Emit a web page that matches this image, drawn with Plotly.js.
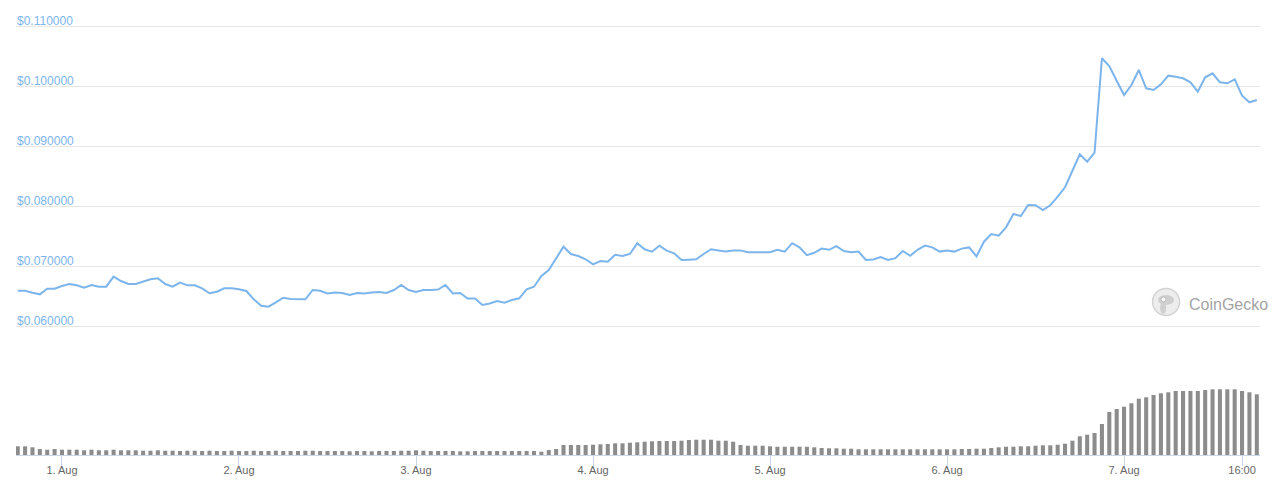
<!DOCTYPE html>
<html>
<head>
<meta charset="utf-8">
<script src="https://cdn.plot.ly/plotly-3.0.1.min.js"></script>
<style>
html,body{margin:0;padding:0;background:#fff;}
#chart{width:1280px;height:485px;}
</style>
</head>
<body>
<div id="chart"></div>
<script>
// Hourly series, first point 31 Jul 18:00, last point 7 Aug 18:00
const startTime = '2024-07-31T18:00:00';

// Price (USD) per hour, grouped by day
const price31Jul = [0.06588, 0.06588, 0.06555, 0.06528, 0.06622, 0.06622];
const price1Aug = [0.06667, 0.06700, 0.06678, 0.06638, 0.06683, 0.06655, 0.06655, 0.06822, 0.06750, 0.06700, 0.06700, 0.06733,
                   0.06778, 0.06795, 0.06700, 0.06655, 0.06722, 0.06678, 0.06678, 0.06628, 0.06545, 0.06572, 0.06628, 0.06628];
const price2Aug = [0.06612, 0.06583, 0.06445, 0.06338, 0.06322, 0.06395, 0.06472, 0.06450, 0.06450, 0.06445, 0.06600, 0.06588,
                   0.06542, 0.06558, 0.06550, 0.06517, 0.06550, 0.06542, 0.06558, 0.06567, 0.06550, 0.06600, 0.06683, 0.06600];
const price3Aug = [0.06567, 0.06600, 0.06600, 0.06608, 0.06683, 0.06542, 0.06550, 0.06458, 0.06458, 0.06350, 0.06375, 0.06417,
                   0.06388, 0.06433, 0.06462, 0.06612, 0.06655, 0.06833, 0.06933, 0.07128, 0.07322, 0.07200, 0.07167, 0.07112];
const price4Aug = [0.07028, 0.07083, 0.07072, 0.07188, 0.07167, 0.07200, 0.07378, 0.07278, 0.07238, 0.07338, 0.07255, 0.07212,
                   0.07100, 0.07105, 0.07112, 0.07200, 0.07280, 0.07260, 0.07240, 0.07260, 0.07260, 0.07230, 0.07230, 0.07230];
const price5Aug = [0.07230, 0.07270, 0.07240, 0.07380, 0.07310, 0.07180, 0.07220, 0.07290, 0.07270, 0.07330, 0.07250, 0.07230,
                   0.07240, 0.07100, 0.07110, 0.07150, 0.07100, 0.07130, 0.07250, 0.07170, 0.07270, 0.07340, 0.07310, 0.07240];
const price6Aug = [0.07260, 0.07240, 0.07290, 0.07310, 0.07160, 0.07405, 0.07533, 0.07505, 0.07645, 0.07867, 0.07833, 0.08017,
                   0.08012, 0.07933, 0.08012, 0.08155, 0.08312, 0.08588, 0.08862, 0.08738, 0.08888, 0.10462, 0.10333, 0.10088];
const price7Aug = [0.09850, 0.10017, 0.10267, 0.09962, 0.09933, 0.10028, 0.10172, 0.10155, 0.10128, 0.10062, 0.09905, 0.10145,
                   0.10212, 0.10062, 0.10045, 0.10112, 0.09838, 0.09728, 0.09767];

// Trading volume per hour (relative units), grouped by day
const vol31Jul = [8.7, 8.7, 7.7, 6.0, 5.3, 6.0];
const vol1Aug = [5.3, 5.3, 5.3, 4.7, 5.3, 4.7, 4.7, 5.3, 4.7, 4.7, 4.7, 4.3, 4.3, 4.7, 4.3, 4.3, 4.0, 4.3, 4.3, 4.0, 4.3, 4.0, 4.0, 4.3];
const vol2Aug = [4.0, 4.0, 4.3, 4.0, 4.0, 4.3, 4.0, 4.0, 4.0, 4.3, 4.3, 4.0, 4.0, 4.0, 4.0, 3.7, 4.0, 4.0, 3.7, 4.0, 4.0, 4.0, 4.3, 4.3];
const vol3Aug = [4.7, 4.3, 4.0, 4.0, 4.0, 4.0, 3.7, 3.7, 4.0, 4.0, 4.0, 4.0, 4.0, 4.0, 4.0, 4.0, 4.0, 3.3, 5.0, 6.0, 10.0, 10.0, 10.0, 10.0];
const vol4Aug = [10.3, 10.7, 11.0, 11.7, 11.7, 12.3, 12.7, 13.3, 13.7, 14.0, 14.0, 14.0, 14.3, 15.0, 15.3, 15.3, 15.3, 14.3, 14.3, 13.3, 10.0, 9.3, 9.3, 9.3];
const vol5Aug = [8.7, 8.3, 8.3, 8.3, 8.3, 8.3, 7.7, 7.0, 6.7, 6.7, 6.3, 6.3, 5.7, 5.7, 5.7, 5.7, 5.7, 5.7, 5.7, 5.7, 5.7, 5.7, 5.7, 5.7];
const vol6Aug = [5.7, 5.7, 6.0, 6.0, 6.3, 6.3, 7.0, 7.7, 8.3, 8.3, 8.7, 8.7, 9.3, 9.7, 9.7, 10.3, 11.3, 14.3, 18.7, 20.3, 22.0, 31.0, 43.0, 46.0];
const vol7Aug = [48.3, 51.7, 56.3, 57.7, 60.0, 61.7, 62.7, 64.0, 64.0, 64.0, 64.0, 65.0, 65.7, 65.7, 65.7, 65.7, 64.0, 62.7, 60.7];

// Axis ticks
const priceTicks = [0.06, 0.07, 0.08, 0.09, 0.10, 0.11];
const dateTickVals = ['2024-08-01', '2024-08-02', '2024-08-03', '2024-08-04', '2024-08-05', '2024-08-06', '2024-08-07', '2024-08-07 16:00'];
const dateTickText = ['1. Aug', '2. Aug', '3. Aug', '4. Aug', '5. Aug', '6. Aug', '7. Aug', '16:00'];

const prices = [].concat(price31Jul, price1Aug, price2Aug, price3Aug, price4Aug, price5Aug, price6Aug, price7Aug);
const volumes = [].concat(vol31Jul, vol1Aug, vol2Aug, vol3Aug, vol4Aug, vol5Aug, vol6Aug, vol7Aug);

function pad(n){return (n<10?'0':'')+n;}
const t0 = new Date(startTime + 'Z').getTime();
const times = prices.map((_, i) => {
  const d = new Date(t0 + i * 3600000);
  return d.getUTCFullYear() + '-' + pad(d.getUTCMonth()+1) + '-' + pad(d.getUTCDate()) + ' ' + pad(d.getUTCHours()) + ':00';
});

const FONT = 'Liberation Sans, Arial, Helvetica, sans-serif';

const traces = [
  {
    x: times, y: volumes, type: 'bar', yaxis: 'y2',
    marker: {color: '#8c8c8c', line: {width: 0}},
    hoverinfo: 'skip'
  },
  {
    x: times, y: prices, type: 'scatter', mode: 'lines',
    line: {color: '#7cb5ec', width: 2},
    hoverinfo: 'skip'
  }
];

// Price tick labels drawn inside the plot, just above each gridline
const priceLabels = priceTicks.map(v => ({
  xref: 'paper', yref: 'y', x: 0, y: v,
  xanchor: 'left', yanchor: 'bottom', yshift: -3, borderpad: 0,
  text: '$' + v.toFixed(6), showarrow: false,
  font: {family: FONT, size: 12, color: '#7cb5ec'}
}));

const layout = {
  width: 1280, height: 485,
  margin: {l: 16, r: 20, t: 10, b: 30},
  paper_bgcolor: '#ffffff', plot_bgcolor: '#ffffff',
  showlegend: false,
  bargap: 0.45,
  font: {family: FONT, size: 12, color: '#666666'},
  xaxis: {
    type: 'date',
    range: ['2024-07-31 17:46', '2024-08-07 18:26'],
    tickvals: dateTickVals, ticktext: dateTickText,
    ticks: 'outside', ticklen: 10, tickcolor: '#ccd6eb', tickwidth: 1,
    ticklabelstandoff: -5,
    tickfont: {family: FONT, size: 11, color: '#666666'},
    showgrid: false, zeroline: false,
    showline: true, linecolor: '#ccd6eb', linewidth: 1
  },
  yaxis: {
    range: [0.0385, 0.112667],
    tickvals: priceTicks,
    showticklabels: false,
    ticks: '', showline: false, zeroline: false,
    showgrid: true, gridcolor: '#e6e6e6', gridwidth: 1
  },
  yaxis2: {
    overlaying: 'y', side: 'right', range: [0, 445],
    visible: false, showgrid: false, zeroline: false
  },
  shapes: [
    {type: 'circle', xref: 'paper', yref: 'paper', xsizemode: 'pixel', ysizemode: 'pixel',
     xanchor: 0.9245, yanchor: 0.344, x0: -13.5, x1: 13.5, y0: -13.5, y1: 13.5,
     fillcolor: '#ededed', line: {color: '#d4d4d4', width: 1.5}},
    {type: 'circle', xref: 'paper', yref: 'paper', xsizemode: 'pixel', ysizemode: 'pixel',
     xanchor: 0.9245, yanchor: 0.344, x0: -8, x1: 8, y0: -3, y1: 7,
     fillcolor: '#cfcfcf', line: {width: 0}},
    {type: 'circle', xref: 'paper', yref: 'paper', xsizemode: 'pixel', ysizemode: 'pixel',
     xanchor: 0.9245, yanchor: 0.344, x0: -6, x1: 0, y0: -12, y1: 0,
     fillcolor: '#cfcfcf', line: {width: 0}},
    {type: 'circle', xref: 'paper', yref: 'paper', xsizemode: 'pixel', ysizemode: 'pixel',
     xanchor: 0.9245, yanchor: 0.344, x0: -5, x1: 0, y0: 0, y1: 5,
     fillcolor: '#f7f7f7', line: {color: '#bdbdbd', width: 1}}
  ],
  annotations: priceLabels.concat([
    {xref: 'paper', yref: 'paper', x: 0.9413, y: 0.3393, xanchor: 'left', yanchor: 'middle',
     text: 'CoinGecko', showarrow: false,
     font: {family: FONT, size: 16, color: '#a3a3a3'}}
  ])
};

Plotly.newPlot('chart', traces, layout, {displayModeBar: false, staticPlot: true});
</script>
</body>
</html>
